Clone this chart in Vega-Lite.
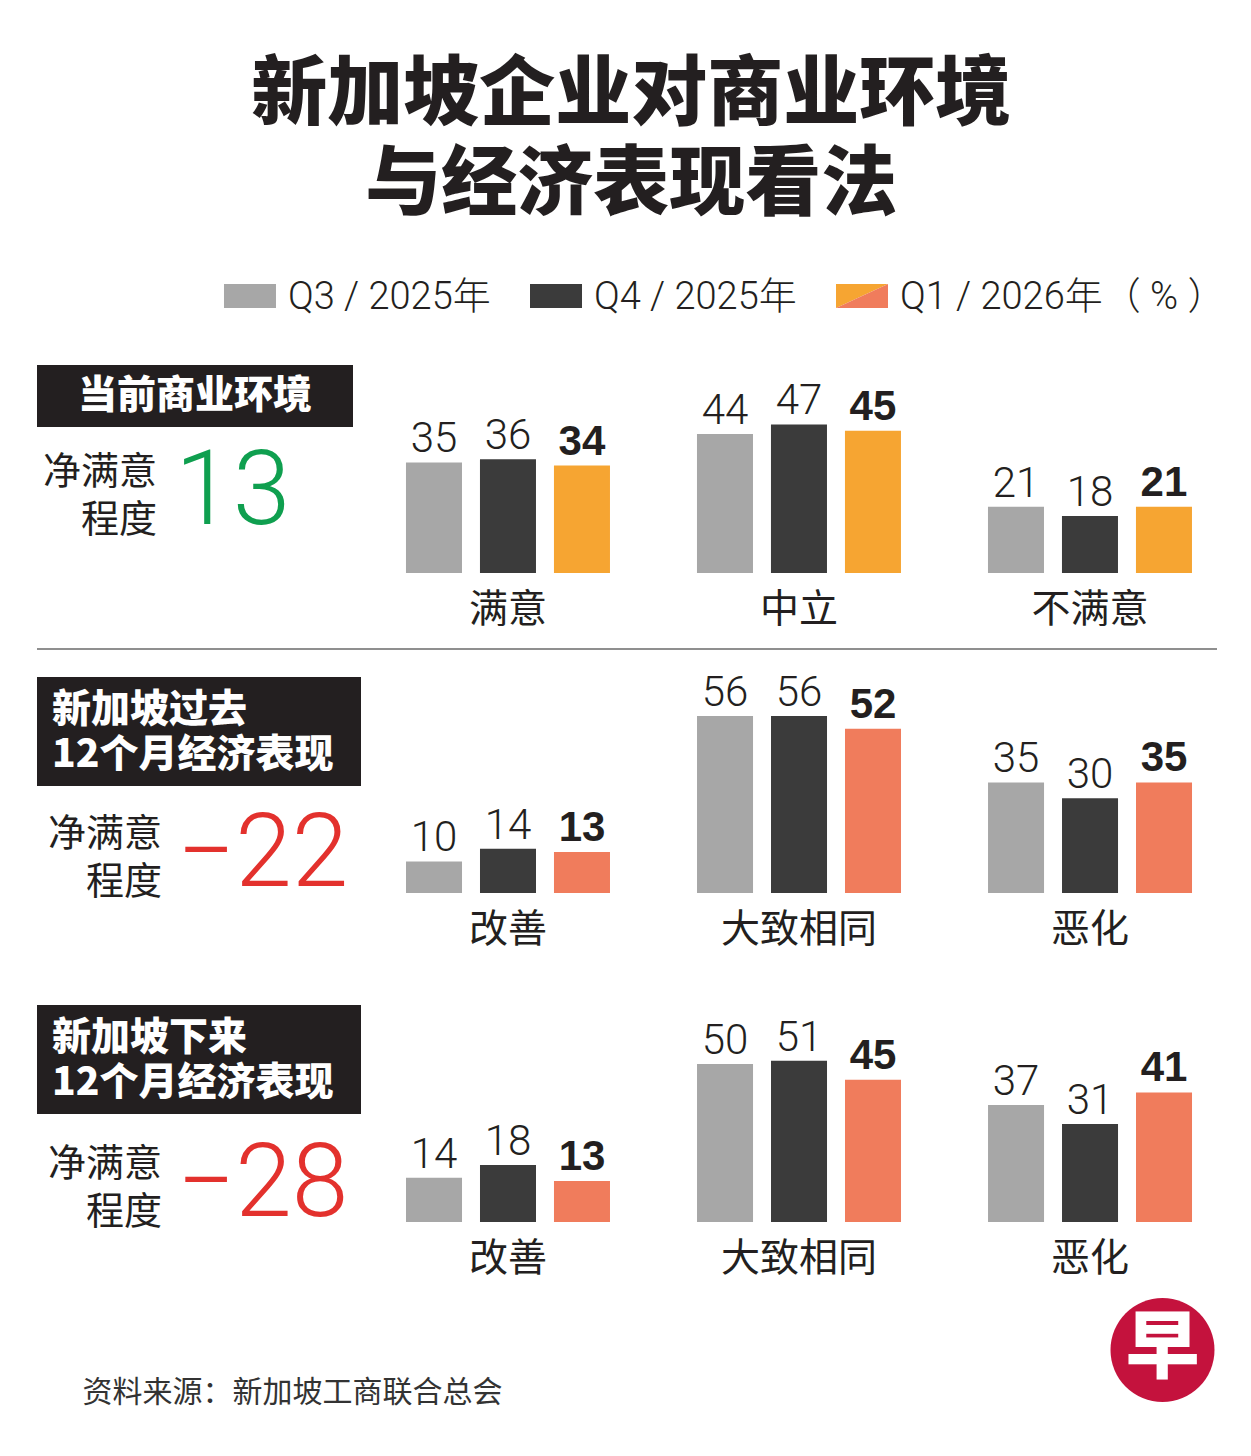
{
  "$schema": "https://vega.github.io/schema/vega-lite/v6.json",
  "background": "white",
  "padding": {"left": 37, "right": 34, "top": 58, "bottom": 30},
  "config": {
    "view": {"stroke": null},
    "concat": {"spacing": 0},
    "font": "Noto Sans CJK SC"
  },
  "title": {
    "text": ["新加坡企业对商业环境", "与经济表现看法"],
    "font": "Noto Sans CJK SC",
    "fontSize": 76,
    "fontWeight": 900,
    "lineHeight": 90,
    "color": "#231f20",
    "anchor": "middle",
    "offset": 46
  },
  "datasets": {
    "legend": [
      {"period": "Q3/2025", "label": "Q3 / 2025年"},
      {"period": "Q4/2025", "label": "Q4 / 2025年"},
      {"period": "Q1/2026", "label": "Q1 / 2026年（ % ）"}
    ],
    "sections": [
      {"section": "当前商业环境", "header": "当前商业环境", "net": 13},
      {"section": "过去12个月", "header": "新加坡过去\n12个月经济表现", "net": -22},
      {"section": "下来12个月", "header": "新加坡下来\n12个月经济表现", "net": -28}
    ],
    "bars": [
      {"section": "当前商业环境", "category": "满意", "period": "Q3/2025", "value": 35},
      {"section": "当前商业环境", "category": "满意", "period": "Q4/2025", "value": 36},
      {"section": "当前商业环境", "category": "满意", "period": "Q1/2026", "value": 34},
      {"section": "当前商业环境", "category": "中立", "period": "Q3/2025", "value": 44},
      {"section": "当前商业环境", "category": "中立", "period": "Q4/2025", "value": 47},
      {"section": "当前商业环境", "category": "中立", "period": "Q1/2026", "value": 45},
      {"section": "当前商业环境", "category": "不满意", "period": "Q3/2025", "value": 21},
      {"section": "当前商业环境", "category": "不满意", "period": "Q4/2025", "value": 18},
      {"section": "当前商业环境", "category": "不满意", "period": "Q1/2026", "value": 21},
      {"section": "过去12个月", "category": "改善", "period": "Q3/2025", "value": 10},
      {"section": "过去12个月", "category": "改善", "period": "Q4/2025", "value": 14},
      {"section": "过去12个月", "category": "改善", "period": "Q1/2026", "value": 13},
      {"section": "过去12个月", "category": "大致相同", "period": "Q3/2025", "value": 56},
      {"section": "过去12个月", "category": "大致相同", "period": "Q4/2025", "value": 56},
      {"section": "过去12个月", "category": "大致相同", "period": "Q1/2026", "value": 52},
      {"section": "过去12个月", "category": "恶化", "period": "Q3/2025", "value": 35},
      {"section": "过去12个月", "category": "恶化", "period": "Q4/2025", "value": 30},
      {"section": "过去12个月", "category": "恶化", "period": "Q1/2026", "value": 35},
      {"section": "下来12个月", "category": "改善", "period": "Q3/2025", "value": 14},
      {"section": "下来12个月", "category": "改善", "period": "Q4/2025", "value": 18},
      {"section": "下来12个月", "category": "改善", "period": "Q1/2026", "value": 13},
      {"section": "下来12个月", "category": "大致相同", "period": "Q3/2025", "value": 50},
      {"section": "下来12个月", "category": "大致相同", "period": "Q4/2025", "value": 51},
      {"section": "下来12个月", "category": "大致相同", "period": "Q1/2026", "value": 45},
      {"section": "下来12个月", "category": "恶化", "period": "Q3/2025", "value": 37},
      {"section": "下来12个月", "category": "恶化", "period": "Q4/2025", "value": 31},
      {"section": "下来12个月", "category": "恶化", "period": "Q1/2026", "value": 41}
    ],
    "footer": [{"source": "资料来源：新加坡工商联合总会", "logo": "早"}]
  },
  "vconcat": [
    {
      "width": 1180,
      "height": 50,
      "data": {"name": "legend"},
      "encoding": {
        "x": {
          "field": "period", "type": "nominal",
          "scale": {"type": "point", "domain": ["Q3/2025", "Q4/2025", "Q1/2026"], "padding": 0.928, "align": 0.375},
          "axis": null
        }
      },
      "layer": [
        {
          "transform": [{"filter": "datum.period !== 'Q1/2026'"}],
          "mark": {"type": "point", "shape": "M-1,-0.4615L1,-0.4615L1,0.4615L-1,0.4615Z", "size": 2704, "filled": true, "opacity": 1, "strokeWidth": 0},
          "encoding": {
            "color": {"condition": {"test": "datum.period === 'Q3/2025'", "value": "#a7a7a7"}, "value": "#3b3b3b"}
          }
        },
        {
          "transform": [{"filter": "datum.period === 'Q1/2026'"}],
          "mark": {"type": "point", "shape": "M-1,-0.4615L1,-0.4615L-1,0.4615Z", "size": 2704, "filled": true, "opacity": 1, "strokeWidth": 0, "color": "#f6a532"},
          "encoding": {}
        },
        {
          "transform": [{"filter": "datum.period === 'Q1/2026'"}],
          "mark": {"type": "point", "shape": "M1,-0.4615L1,0.4615L-1,0.4615Z", "size": 2704, "filled": true, "opacity": 1, "strokeWidth": 0, "color": "#f07c5c"},
          "encoding": {}
        },
        {
          "mark": {"type": "text", "align": "left", "baseline": "middle", "dx": 38, "dy": 2, "font": "Roboto, Noto Sans CJK SC", "fontWeight": 300, "fontSize": 38, "color": "#231f20"},
          "encoding": {"text": {"field": "label"}}
        }
      ]
    },
    {"width": 1, "height": 44, "data": {"values": []}, "mark": "point", "encoding": {}},
    {
      "hconcat": [
        {
          "vconcat": [
            {
              "width": 316, "height": 62,
              "view": {"fill": "#231f20", "stroke": null},
              "data": {"name": "sections"},
              "transform": [{"filter": "datum.section === '当前商业环境'"}],
              "mark": {"type": "text", "color": "white", "fontSize": 39, "fontWeight": 900, "baseline": "middle", "lineBreak": "\n", "lineHeight": 45},
              "encoding": {"text": {"field": "header"}}
            },
            {
              "width": 316, "height": 132,
              "data": {"name": "sections"},
              "transform": [{"filter": "datum.section === '当前商业环境'"}],
              "layer": [
                {
                  "mark": {"type": "text", "text": ["净满意", "程度"], "align": "right", "baseline": "middle", "dx": -38, "dy": -20, "fontSize": 38, "lineHeight": 48, "color": "#231f20"},
                  "encoding": {}
                },
                {
                  "mark": {"type": "text", "align": "left", "baseline": "middle", "dx": -20, "dy": 0, "font": "Roboto", "fontWeight": 300, "fontSize": 104},
                  "encoding": {
                    "text": {"field": "net", "type": "quantitative", "format": "d"},
                    "color": {"condition": {"test": "datum.net < 0", "value": "#e3312d"}, "value": "#0f9f4f"}
                  }
                }
              ]
            }
          ]
        },
        {
          "width": 862, "height": 208,
          "data": {"name": "bars"},
          "transform": [{"filter": "datum.section === '当前商业环境'"}],
          "encoding": {
            "x": {
              "field": "category", "type": "nominal",
              "scale": {"domain": ["满意", "中立", "不满意"], "paddingInner": 0.299, "paddingOuter": 0.1306, "align": 0.697},
              "axis": {"title": null, "domain": false, "ticks": false, "tickSize": 0, "labelAngle": 0, "labelFontSize": 39, "labelPadding": 17, "labelColor": "#231f20", "labelFont": "Noto Sans CJK SC"}
            },
            "xOffset": {"field": "period", "type": "nominal", "scale": {"domain": ["Q3/2025", "Q4/2025", "Q1/2026"], "paddingInner": 0.243, "paddingOuter": 0}},
            "y": {"field": "value", "type": "quantitative", "scale": {"domain": [0, 65.82], "nice": false}, "axis": null}
          },
          "layer": [
            {
              "mark": {"type": "bar"},
              "encoding": {
                "color": {"condition": [{"test": "datum.period === 'Q3/2025'", "value": "#a7a7a7"}, {"test": "datum.period === 'Q4/2025'", "value": "#3b3b3b"}], "value": "#f6a532"}
              }
            },
            {
              "transform": [{"filter": "datum.period !== 'Q1/2026'"}],
              "mark": {"type": "text", "baseline": "alphabetic", "dy": -10, "font": "Roboto", "fontWeight": 300, "fontSize": 42, "color": "#231f20"},
              "encoding": {"text": {"field": "value", "type": "quantitative"}}
            },
            {
              "transform": [{"filter": "datum.period === 'Q1/2026'"}],
              "mark": {"type": "text", "baseline": "alphabetic", "dy": -11, "font": "Liberation Sans", "fontWeight": "bold", "fontSize": 42, "color": "#231f20"},
              "encoding": {"text": {"field": "value", "type": "quantitative"}}
            }
          ]
        }
      ]
    },
    {"width": 1, "height": 19, "data": {"values": []}, "mark": "point", "encoding": {}},
    {"width": 1180, "height": 2, "view": {"fill": "#8f8f8f", "stroke": null}, "data": {"values": []}, "mark": "point", "encoding": {}},
    {"width": 1, "height": 22, "data": {"values": []}, "mark": "point", "encoding": {}},
    {
      "hconcat": [
        {
          "vconcat": [
            {
              "width": 324, "height": 109,
              "view": {"fill": "#231f20", "stroke": null},
              "data": {"name": "sections"},
              "transform": [{"filter": "datum.section === '过去12个月'"}],
              "mark": {"type": "text", "color": "white", "align": "left", "dx": -147, "dy": -22, "fontSize": 39, "fontWeight": 900, "baseline": "middle", "lineBreak": "\n", "lineHeight": 45},
              "encoding": {"text": {"field": "header"}}
            },
            {
              "width": 324, "height": 142,
              "data": {"name": "sections"},
              "transform": [{"filter": "datum.section === '过去12个月'"}],
              "layer": [
                {
                  "mark": {"type": "text", "text": ["净满意", "程度"], "align": "right", "baseline": "middle", "dx": -37, "dy": -22, "fontSize": 38, "lineHeight": 48, "color": "#231f20"},
                  "encoding": {}
                },
                {
                  "mark": {"type": "text", "align": "left", "baseline": "middle", "dx": -22, "dy": -2, "font": "Roboto", "fontWeight": 300, "fontSize": 102},
                  "encoding": {
                    "text": {"field": "net", "type": "quantitative", "format": "d"},
                    "color": {"condition": {"test": "datum.net < 0", "value": "#e3312d"}, "value": "#0f9f4f"}
                  }
                }
              ]
            }
          ]
        },
        {
          "width": 854, "height": 216,
          "data": {"name": "bars"},
          "transform": [{"filter": "datum.section === '过去12个月'"}],
          "encoding": {
            "x": {
              "field": "category", "type": "nominal",
              "scale": {"domain": ["改善", "大致相同", "恶化"], "paddingInner": 0.299, "paddingOuter": 0.1168, "align": 0.662},
              "axis": {"title": null, "domain": false, "ticks": false, "tickSize": 0, "labelAngle": 0, "labelFontSize": 39, "labelPadding": 17, "labelColor": "#231f20", "labelFont": "Noto Sans CJK SC"}
            },
            "xOffset": {"field": "period", "type": "nominal", "scale": {"domain": ["Q3/2025", "Q4/2025", "Q1/2026"], "paddingInner": 0.243, "paddingOuter": 0}},
            "y": {"field": "value", "type": "quantitative", "scale": {"domain": [0, 68.35], "nice": false}, "axis": null}
          },
          "layer": [
            {
              "mark": {"type": "bar"},
              "encoding": {
                "color": {"condition": [{"test": "datum.period === 'Q3/2025'", "value": "#a7a7a7"}, {"test": "datum.period === 'Q4/2025'", "value": "#3b3b3b"}], "value": "#f07c5c"}
              }
            },
            {
              "transform": [{"filter": "datum.period !== 'Q1/2026'"}],
              "mark": {"type": "text", "baseline": "alphabetic", "dy": -10, "font": "Roboto", "fontWeight": 300, "fontSize": 42, "color": "#231f20"},
              "encoding": {"text": {"field": "value", "type": "quantitative"}}
            },
            {
              "transform": [{"filter": "datum.period === 'Q1/2026'"}],
              "mark": {"type": "text", "baseline": "alphabetic", "dy": -11, "font": "Liberation Sans", "fontWeight": "bold", "fontSize": 42, "color": "#231f20"},
              "encoding": {"text": {"field": "value", "type": "quantitative"}}
            }
          ]
        }
      ]
    },
    {"width": 1, "height": 56, "data": {"values": []}, "mark": "point", "encoding": {}},
    {
      "hconcat": [
        {
          "vconcat": [
            {
              "width": 324, "height": 109,
              "view": {"fill": "#231f20", "stroke": null},
              "data": {"name": "sections"},
              "transform": [{"filter": "datum.section === '下来12个月'"}],
              "mark": {"type": "text", "color": "white", "align": "left", "dx": -147, "dy": -22, "fontSize": 39, "fontWeight": 900, "baseline": "middle", "lineBreak": "\n", "lineHeight": 45},
              "encoding": {"text": {"field": "header"}}
            },
            {
              "width": 324, "height": 146,
              "data": {"name": "sections"},
              "transform": [{"filter": "datum.section === '下来12个月'"}],
              "layer": [
                {
                  "mark": {"type": "text", "text": ["净满意", "程度"], "align": "right", "baseline": "middle", "dx": -37, "dy": -22, "fontSize": 38, "lineHeight": 48, "color": "#231f20"},
                  "encoding": {}
                },
                {
                  "mark": {"type": "text", "align": "left", "baseline": "middle", "dx": -22, "dy": -2, "font": "Roboto", "fontWeight": 300, "fontSize": 102},
                  "encoding": {
                    "text": {"field": "net", "type": "quantitative", "format": "d"},
                    "color": {"condition": {"test": "datum.net < 0", "value": "#e3312d"}, "value": "#0f9f4f"}
                  }
                }
              ]
            }
          ]
        },
        {
          "width": 854, "height": 217,
          "data": {"name": "bars"},
          "transform": [{"filter": "datum.section === '下来12个月'"}],
          "encoding": {
            "x": {
              "field": "category", "type": "nominal",
              "scale": {"domain": ["改善", "大致相同", "恶化"], "paddingInner": 0.299, "paddingOuter": 0.1168, "align": 0.662},
              "axis": {"title": null, "domain": false, "ticks": false, "tickSize": 0, "labelAngle": 0, "labelFontSize": 39, "labelPadding": 17, "labelColor": "#231f20", "labelFont": "Noto Sans CJK SC"}
            },
            "xOffset": {"field": "period", "type": "nominal", "scale": {"domain": ["Q3/2025", "Q4/2025", "Q1/2026"], "paddingInner": 0.243, "paddingOuter": 0}},
            "y": {"field": "value", "type": "quantitative", "scale": {"domain": [0, 68.67], "nice": false}, "axis": null}
          },
          "layer": [
            {
              "mark": {"type": "bar"},
              "encoding": {
                "color": {"condition": [{"test": "datum.period === 'Q3/2025'", "value": "#a7a7a7"}, {"test": "datum.period === 'Q4/2025'", "value": "#3b3b3b"}], "value": "#f07c5c"}
              }
            },
            {
              "transform": [{"filter": "datum.period !== 'Q1/2026'"}],
              "mark": {"type": "text", "baseline": "alphabetic", "dy": -10, "font": "Roboto", "fontWeight": 300, "fontSize": 42, "color": "#231f20"},
              "encoding": {"text": {"field": "value", "type": "quantitative"}}
            },
            {
              "transform": [{"filter": "datum.period === 'Q1/2026'"}],
              "mark": {"type": "text", "baseline": "alphabetic", "dy": -11, "font": "Liberation Sans", "fontWeight": "bold", "fontSize": 42, "color": "#231f20"},
              "encoding": {"text": {"field": "value", "type": "quantitative"}}
            }
          ]
        }
      ]
    },
    {"width": 1, "height": 20, "data": {"values": []}, "mark": "point", "encoding": {}},
    {
      "hconcat": [
        {
          "width": 1071, "height": 104,
          "data": {"name": "footer"},
          "mark": {"type": "text", "align": "left", "baseline": "middle", "dx": -490, "dy": 43, "fontSize": 30, "color": "#333333"},
          "encoding": {"text": {"field": "source"}}
        },
        {
          "width": 109, "height": 104,
          "data": {"name": "footer"},
          "layer": [
            {
              "mark": {"type": "point", "shape": "circle", "size": 10816, "filled": true, "opacity": 1, "strokeWidth": 0, "color": "#c4123d"},
              "encoding": {}
            },
            {
              "mark": {"type": "text", "baseline": "middle", "fontSize": 74, "fontWeight": 900, "color": "white"},
              "encoding": {"text": {"field": "logo"}}
            }
          ]
        }
      ]
    }
  ]
}
